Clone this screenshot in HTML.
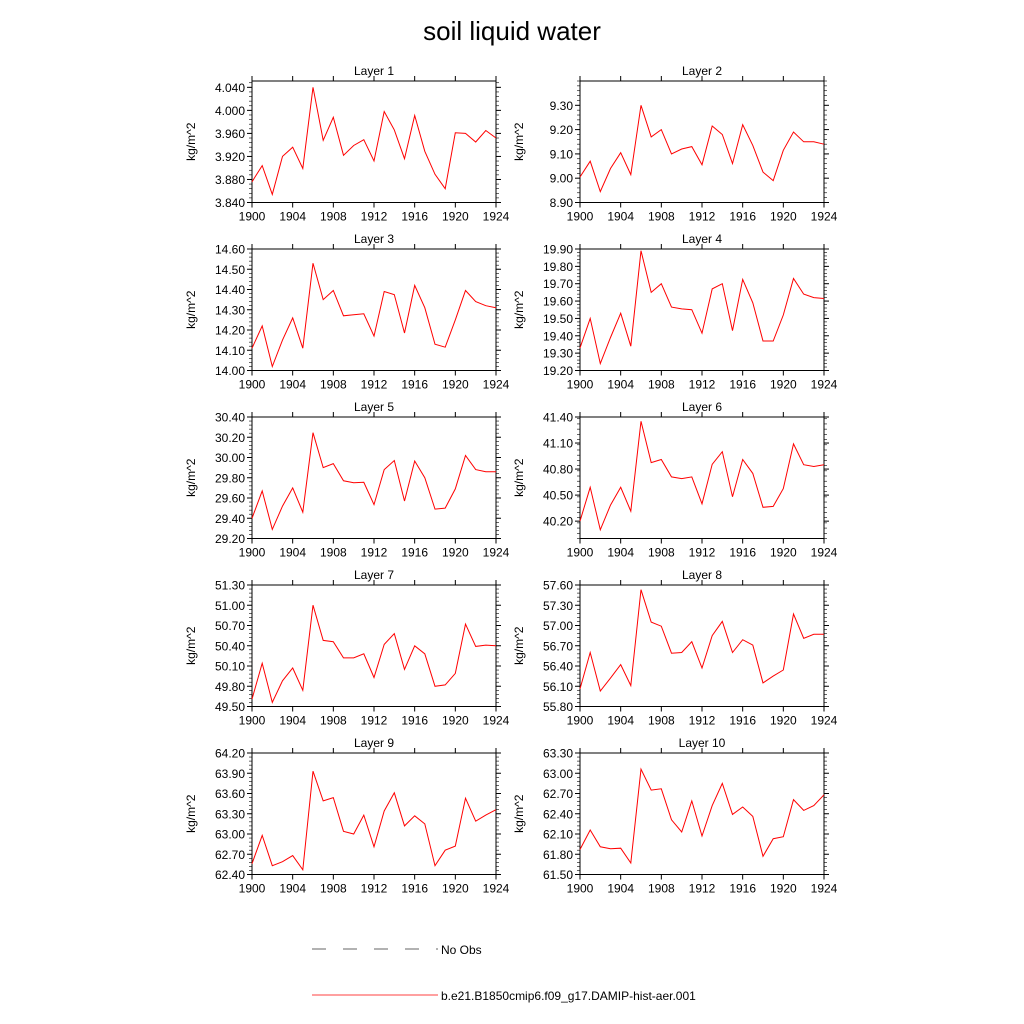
<!DOCTYPE html>
<html><head><meta charset="utf-8"><style>
body{margin:0;background:#fff;}
svg{display:block;font-family:"Liberation Sans",sans-serif;}
</style></head><body>
<svg id="fig" width="1024" height="1024" viewBox="0 0 1024 1024">
<text x="512" y="40" font-size="26" text-anchor="middle">soil liquid water</text>
<g id="panels"></g>
<g>
<line x1="312" y1="949" x2="438" y2="949" stroke="#666" stroke-width="1" stroke-dasharray="14,17"/>
<text x="441" y="954" font-size="12">No Obs</text>
<line x1="312" y1="995" x2="438" y2="995" stroke="#f00" stroke-width="0.8"/>
<text x="441" y="1000" font-size="12">b.e21.B1850cmip6.f09_g17.DAMIP-hist-aer.001</text>
</g>
</svg>
<script>
const years = [1900,1901,1902,1903,1904,1905,1906,1907,1908,1909,1910,1911,1912,1913,1914,1915,1916,1917,1918,1919,1920,1921,1922,1923,1924];
const xTickLabels = [1900,1904,1908,1912,1916,1920,1924];
const layer1 = [3.876,3.904,3.854,3.920,3.936,3.899,4.040,3.948,3.988,3.922,3.939,3.949,3.912,3.998,3.966,3.916,3.991,3.929,3.889,3.864,3.961,3.960,3.945,3.965,3.952];
const layer2 = [9.005,9.07,8.945,9.04,9.105,9.015,9.30,9.17,9.20,9.10,9.12,9.13,9.055,9.215,9.18,9.06,9.22,9.135,9.025,8.99,9.115,9.19,9.15,9.15,9.14];
const layer3 = [14.11,14.22,14.02,14.15,14.26,14.11,14.53,14.35,14.395,14.27,14.275,14.28,14.17,14.39,14.375,14.185,14.42,14.31,14.13,14.115,14.25,14.395,14.34,14.32,14.31];
const layer4 = [19.33,19.50,19.24,19.39,19.53,19.34,19.89,19.65,19.70,19.565,19.555,19.55,19.415,19.67,19.70,19.43,19.725,19.59,19.37,19.37,19.52,19.73,19.64,19.62,19.615];
const layer5 = [29.40,29.67,29.29,29.52,29.70,29.46,30.245,29.90,29.94,29.77,29.75,29.755,29.535,29.88,29.97,29.57,29.965,29.80,29.49,29.50,29.69,30.02,29.88,29.86,29.86];
const layer6 = [40.20,40.59,40.10,40.385,40.59,40.315,41.35,40.875,40.91,40.71,40.69,40.71,40.40,40.855,41.0,40.48,40.91,40.75,40.36,40.37,40.575,41.09,40.85,40.83,40.85];
const layer7 = [49.61,50.14,49.56,49.88,50.07,49.74,51.0,50.48,50.46,50.22,50.22,50.28,49.93,50.42,50.58,50.05,50.40,50.28,49.80,49.82,49.99,50.72,50.39,50.41,50.40];
const layer8 = [56.06,56.60,56.03,56.22,56.42,56.11,57.53,57.05,56.99,56.59,56.60,56.76,56.37,56.85,57.06,56.60,56.79,56.71,56.15,56.25,56.34,57.17,56.81,56.87,56.87];
const layer9 = [62.56,62.98,62.53,62.59,62.68,62.47,63.93,63.49,63.54,63.04,63.00,63.28,62.81,63.34,63.61,63.12,63.27,63.15,62.53,62.76,62.82,63.53,63.19,63.28,63.36];
const layer10 = [61.87,62.16,61.91,61.88,61.89,61.67,63.06,62.75,62.77,62.31,62.13,62.59,62.07,62.52,62.85,62.39,62.50,62.36,61.77,62.03,62.06,62.61,62.45,62.52,62.68];
const yTicks1 = ["3.840","3.880","3.920","3.960","4.000","4.040"];
const yTicks2 = ["8.90","9.00","9.10","9.20","9.30"];
const yTicks3 = ["14.00","14.10","14.20","14.30","14.40","14.50","14.60"];
const yTicks4 = ["19.20","19.30","19.40","19.50","19.60","19.70","19.80","19.90"];
const yTicks5 = ["29.20","29.40","29.60","29.80","30.00","30.20","30.40"];
const yTicks6 = ["40.20","40.50","40.80","41.10","41.40"];
const yTicks7 = ["49.50","49.80","50.10","50.40","50.70","51.00","51.30"];
const yTicks8 = ["55.80","56.10","56.40","56.70","57.00","57.30","57.60"];
const yTicks9 = ["62.40","62.70","63.00","63.30","63.60","63.90","64.20"];
const yTicks10 = ["61.50","61.80","62.10","62.40","62.70","63.00","63.30"];
const yMins = [3.840,8.90,14.00,19.20,29.20,40.00,49.50,55.80,62.40,61.50];
const yMaxs = [4.051,9.40,14.60,19.90,30.40,41.40,51.30,57.60,64.20,63.30];
const series = [layer1,layer2,layer3,layer4,layer5,layer6,layer7,layer8,layer9,layer10];
const yTickSets = [yTicks1,yTicks2,yTicks3,yTicks4,yTicks5,yTicks6,yTicks7,yTicks8,yTicks9,yTicks10];

const NS="http://www.w3.org/2000/svg";
const root=document.getElementById('panels');
function mk(tag,attrs,parent){const e=document.createElementNS(NS,tag);for(const k in attrs)e.setAttribute(k,attrs[k]);parent.appendChild(e);return e;}
for(let i=0;i<10;i++){
  const col=i%2,row=Math.floor(i/2);
  const L=col?580:252,R=col?824:496,T=81+row*168,B=T+121.5;
  const xs=v=>L+(v-1900)/24*(R-L);
  const ys=v=>B-(v-yMins[i])/(yMaxs[i]-yMins[i])*(B-T);
  const g=mk('g',{},root);
  
  
  const t=mk('text',{x:(L+R)/2,y:T-6,'font-size':12,'text-anchor':'middle'},g);
  t.textContent='Layer '+(i+1);
  
  
  const yl=mk('text',{x:0,y:0,'font-size':12,'text-anchor':'middle',transform:`translate(${L-57},${(T+B)/2}) rotate(-90)`},g);
  yl.textContent='kg/m^2';
  
  
  // x ticks
  xTickLabels.forEach(v=>{
    const x=xs(v);
    mk('line',{x1:x,y1:B,x2:x,y2:B+5,stroke:'#000'},g);
    mk('line',{x1:x,y1:T,x2:x,y2:T-5,stroke:'#000'},g);
    const tl=mk('text',{x:x,y:B+18,'font-size':12,'text-anchor':'middle'},g);
    tl.textContent=v;
    
    
  });
  // y ticks
  const ticks=yTickSets[i];
  const step=parseFloat(ticks[1])-parseFloat(ticks[0]);
  for(let v=yMins[i];v<=yMaxs[i]+1e-9;v+=step/5){
    const y=ys(v);
    mk('line',{x1:L,y1:y,x2:L-3,y2:y,stroke:'#000','stroke-width':0.6},g);
    mk('line',{x1:R,y1:y,x2:R+3,y2:y,stroke:'#000','stroke-width':0.6},g);
  }
  ticks.forEach(s=>{
    const y=ys(parseFloat(s));
    mk('line',{x1:L,y1:y,x2:L-5,y2:y,stroke:'#000'},g);
    mk('line',{x1:R,y1:y,x2:R+5,y2:y,stroke:'#000'},g);
    const tl=mk('text',{x:L-7,y:y+4.5,'font-size':12,'text-anchor':'end'},g);
    tl.textContent=s;
    
    
  });
  const box=mk('rect',{x:L,y:T,width:R-L,height:B-T,fill:'none',stroke:'#000','stroke-width':1},g);
  
  
  const pts=series[i].map((v,j)=>xs(years[j]).toFixed(1)+','+ys(v).toFixed(1)).join(' ');
  const pl=mk('polyline',{points:pts,fill:'none',stroke:'#f00','stroke-width':1},g);
  
  
}
</script>
</body></html>
